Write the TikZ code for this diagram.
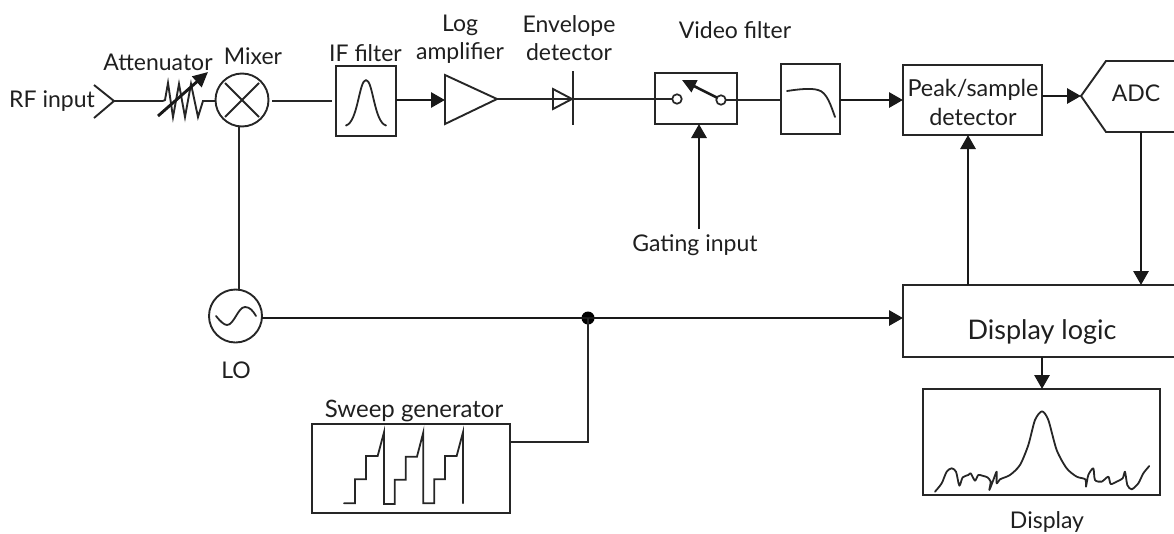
\documentclass[tikz,border=0pt]{standalone}
\usepackage{fontspec}
\setmainfont{Lato}
\usetikzlibrary{arrows.meta,calc}
\tikzset{
  thinln/.style={line width=1.9pt,draw=black!85},
  thickln/.style={line width=2.9pt,draw=black!90},
  arr/.style={thickln,-{Triangle[length=14pt,width=15pt]}},
  block/.style={draw=black!85,line width=1.9pt,minimum width=#1,inner sep=0pt,outer sep=0pt,rectangle},
  lab/.style={font=\fontsize{23}{28}\selectfont,text=black!88,inner sep=0pt,align=center},
  curveln/.style={line width=1.8pt,draw=black!85,line cap=round,line join=round}
}
\begin{document}
\begin{tikzpicture}[x=1pt,y=-1pt]
\useasboundingbox (0,0) rectangle (1174,533);
% blocks
\node[block=60pt,minimum height=70pt] (ifb) at (366,101) {};
\node[block=82pt,minimum height=51pt] (gate) at (696,98.5) {};
\node[block=59pt,minimum height=70pt] (vid) at (810.5,99) {};
\node[block=139pt,minimum height=70pt] (peak) at (972.5,100) {};
\node[block=273pt,minimum height=72pt] (logic) at (1039.5,321) {};
\node[block=237pt,minimum height=106pt] (disp) at (1041.5,442) {};
\node[block=198pt,minimum height=89pt] (sweep) at (411,468.5) {};
\node[circle,draw=black!85,line width=1.9pt,minimum size=53pt,inner sep=0pt,outer sep=0pt] (mix) at (242,100) {};
\node[circle,draw=black!85,line width=1.9pt,minimum size=53pt,inner sep=0pt,outer sep=0pt] (lo) at (235.5,316) {};
\node[circle,fill=black,minimum size=13pt,inner sep=0pt] (dot) at (588,318) {};
\node[circle,draw=black!85,line width=1.7pt,minimum size=9.5pt,inner sep=0pt,outer sep=0pt,fill=white] (c1) at (677,99) {};
\node[circle,draw=black!85,line width=1.7pt,minimum size=9.5pt,inner sep=0pt,outer sep=0pt,fill=white] (c2) at (721,100) {};
% coordinates
\coordinate (rftip) at (114,101);
\coordinate (resin) at (163,101);
\coordinate (resout) at (215,101);
\coordinate (amptip) at (497,99);
\coordinate (ampin) at (445,100);
\coordinate (dtip) at (572,99);
\coordinate (adctip) at (1081,96);
\coordinate (gatefree) at (699,229);
% labels
\node[lab] (trf) at (52,101) {RF input};
\node[lab] (tat) at (158,62) {Attenuator};
\node[lab] (tmx) at (253,56) {Mixer};
\node[lab] (tif) at (365.5,53) {IF filter};
\node[lab] (tlog) at (460,39) {Log\\amplifier};
\node[lab] (tenv) at (569,38) {Envelope\\detector};
\node[lab] (tvid) at (735,30) {Video filter};
\node[lab] (tadc) at (1136,93) {ADC};
\node[lab] (tgat) at (695,245) {Gating input};
\node[lab] (tlo) at (236,370) {LO};
\node[lab,font=\fontsize{24}{28}\selectfont] (tsw) at (414,411) {Sweep generator};
\node[lab] (tdis) at (1047,522) {Display};
\node[lab,font=\fontsize{23.4}{29}\selectfont] (tpeak) at (973,102) {Peak/sample\\detector};
\node[lab,font=\fontsize{27}{30}\selectfont] (tlogic) at (1042,332) {Display logic};
% RF chevron
\draw[thinln,line join=miter] (94,85) -- (rftip) -- (94,118);
\draw[thinln] (rftip) -- (resin);
\draw[thinln,line join=miter] (resin) -- (165,100) -- (168,83) -- (173,117) -- (179,84) -- (185,117) -- (191,84) -- (198,117) -- (203,101) -- (resout);
\draw[line width=2.9pt,draw=black!90,-{Triangle[length=15pt,width=14pt]}] (158,116) -- (208,72);
% mixer
\draw[thinln] (225,83) -- (259,117) (259,83) -- (225,117);
\draw[thinln] (272,101) -- (332,101);
\draw[thinln] (239,127) -- (lo.north -| 239,0);
% IF curve
\draw[curveln] (346,125.5) .. controls (358,122) and (359,80) .. (366,80) .. controls (373,80) and (374,122) .. (386,125.5);
\draw[arr] (ifb.east |- 0,100) -- (ampin);
% amp
\draw[thinln,line join=miter] (445,75) -- (445,124) -- (amptip) -- cycle;
\draw[thinln] (amptip) -- (dtip);
% diode
\draw[thinln,line join=miter] (553,89) -- (553,109) -- (dtip) -- cycle;
\draw[thinln] (573,71) -- (573,125);
\draw[thinln] (573,99) -- (c1.west);
\draw[thinln] (c2.east) -- (vid.west |- c2.east);
\draw[line width=2.6pt,draw=black!90,-{Triangle[length=14pt,width=13pt]}] (c2.150) -- (682,80);
% video curve
\draw[curveln] (787,91) .. controls (800,89) and (811,88) .. (818,90) .. controls (827,92) and (831,106) .. (835,117);
\draw[arr] (vid.east |- 0,100) -- (peak.west |- 0,100);
\draw[arr] (peak.east |- adctip) -- (adctip);
% ADC
\draw[thinln,line join=miter] (1174,61) -- (1106,61) -- (adctip) -- (1106,132) -- (1174,132);
\draw[arr] (1141,132) -- (logic.north -| 1141,0);
\draw[arr] (logic.north -| 968,0) -- (peak.south -| 968,0);
\draw[arr] (gatefree) -- (gate.south -| gatefree);
\draw[arr] (lo.east |- 0,318) -- (logic.west |- 0,318);
\draw[arr] (logic.south -| 1042,0) -- (disp.north -| 1042,0);
\draw[thinln] (sweep.east |- 0,442) -| (dot.center);
% sweep staircase
\draw[curveln,line join=miter,shift={(300,380)},x=0.3333pt,y=-0.3333pt]
 (132,370) -- (165,370) -- (165,298) -- (198,298) -- (198,228) -- (233,228) -- (252,157) -- (252,372) -- (284,372) -- (284,299) -- (317,299) -- (317,230) -- (351,230) -- (370,157) -- (370,370) -- (403,370) -- (403,298) -- (435,298) -- (435,228) -- (470,228) -- (489,157) -- (489,370);
% sine
\draw[curveln] (216,316) .. controls (220,321) and (224,325) .. (227,325) .. controls (234,325) and (238,307) .. (245,307) .. controls (250,307) and (253,311) .. (256,316);
% display trace
\draw[curveln,shift={(900,340)},x=0.3333pt,y=-0.3333pt] plot[smooth,tension=0.45] coordinates {
(105,455)(125,430)(140,395)(155,385)(168,395)(178,437)(188,412)(205,405)(212,400)(225,422)(235,405)(250,408)(262,412)(272,425)(268,450)(280,420)(290,395)(290,430)(300,418)(330,405)(360,375)(385,315)(405,240)(426,214)(445,240)(470,330)(500,385)(530,410)(556,418)(558,440)(565,405)(580,385)(585,420)(605,425)(625,410)(632,432)(650,425)(668,415)(675,395)(682,435)(695,448)(715,430)(730,400)(748,378)};
\end{tikzpicture}
\end{document}
